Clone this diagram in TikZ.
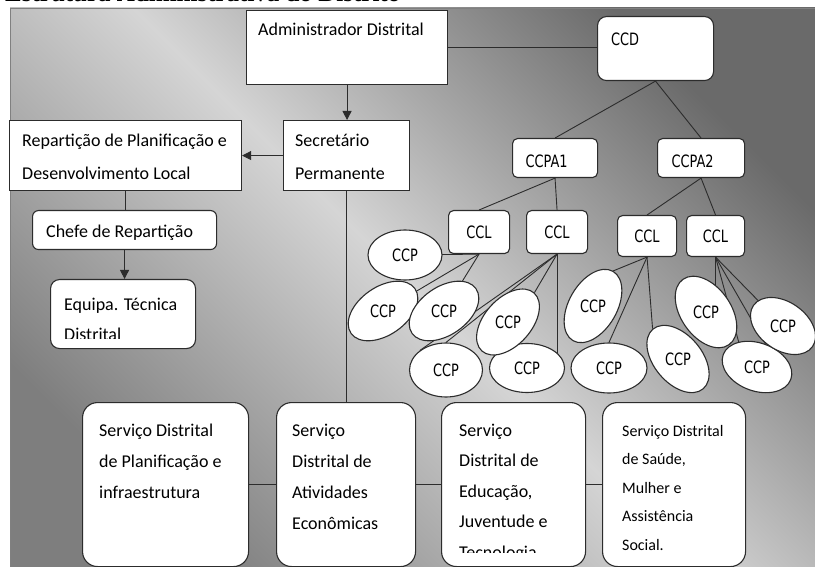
\documentclass[tikz,border=0pt]{standalone}
\usepackage{fontspec}
\usepackage{graphicx}
\setmainfont{Carlito}
\newfontfamily\titlefont{Liberation Serif}
\newfontfamily\dejavu{DejaVu Sans}
\usetikzlibrary{shapes.geometric,arrows.meta,calc}
\pgfdeclarelayer{back}
\pgfdeclarelayer{links}
\pgfsetlayers{back,links,main}
\definecolor{edge}{HTML}{2C2C2C}
\definecolor{gdark}{HTML}{6A6A6A}
\definecolor{glight}{HTML}{D5D5D5}
\definecolor{gbl}{HTML}{7E7E7E}
\newcommand\mlines[3]{\parbox[t]{300pt}{\fontsize{#1}{#2}\selectfont #3}}
\newcommand\nrw[1]{\scalebox{0.76}[1]{\dejavu\fontsize{17}{20}\selectfont #1}}
\begin{document}
\begin{tikzpicture}[x=1pt,y=-1pt,
  box/.style={draw=edge, fill=white, line width=1.1pt, rectangle, anchor=north west, inner sep=0pt},
  rbox/.style={box, rounded corners=6pt},
  bigbox/.style={box, rounded corners=15pt},
  lbl/.style={anchor=base west, inner sep=0pt, font=\fontsize{18}{20}\selectfont},
  cclbox/.style={rbox, rounded corners=5pt},
  ccp/.style={ellipse, draw=edge, fill=white, line width=1.1pt, inner sep=0pt},
  ccptxt/.style={inner sep=0pt},
  link/.style={draw=edge, line width=0.9pt},
  arr/.style={link, -{Triangle[length=9pt,width=9pt]}},
]
\useasboundingbox (0,0) rectangle (815,567);
\begin{pgfonlayer}{back}
  \shade[top color=gdark, bottom color=gbl, middle color=glight, shading angle=-45] (10,8) rectangle (815,567);
  \draw[line width=0.6pt, draw=gray] (10,567) -- (10,8) -- (815,8);
\end{pgfonlayer}

% title (partly cut off at the top, as in the source)
\node[anchor=base west, inner sep=0pt, font=\titlefont\bfseries\fontsize{25}{27}\selectfont] (title) at (5,1.8) {Estrutura Administrativa do Distrito};

% top part
\node[box, minimum width=201, minimum height=74] (adm) at (246,10) {};
\node[lbl] (admT) at ($(adm.north west)+(12,26)$) {Administrador Distrital};

\node[rbox, rounded corners=9pt, minimum width=116, minimum height=64] (ccd) at (597,16) {};
\node[anchor=base west, inner sep=0pt] (ccdT) at ($(ccd.north west)+(14,30)$) {\nrw{CCD}};

\node[box, minimum width=126, minimum height=70] (sec) at (283,120) {};
\node[lbl] (secT) at ($(sec.north west)+(12,27)$) {\mlines{18}{33}{Secretário\\Permanente}};

\node[box, minimum width=232, minimum height=70] (rep) at (9,120) {};
\node[lbl] (repT) at ($(rep.north west)+(13,27)$) {\mlines{18}{33}{Repartição de Planificação e\\Desenvolvimento Local}};

\node[rbox, minimum width=184, minimum height=39] (chefe) at (32,210) {};
\node[lbl] (chefeT) at ($(chefe.north west)+(14,27)$) {Chefe de Repartição};

\node[rbox, rounded corners=9pt, minimum width=145, minimum height=69] (equipa) at (50,279) {};
\begin{scope}
  \clip (50,279) rectangle (195,338);
  \node[lbl] (equipaT) at ($(equipa.north west)+(14,31)$) {\mlines{18}{30}{Equipa. Técnica\\Distrital}};
\end{scope}

% bottom services
\node[bigbox, minimum width=166, minimum height=164] (svA) at (82,402) {};
\node[lbl] (svAT) at ($(svA.north west)+(17,34)$) {\mlines{18}{31}{Serviço Distrital\\de Planificação e\\infraestrutura}};
\node[bigbox, minimum width=139, minimum height=164] (svB) at (276,402) {};
\node[lbl] (svBT) at ($(svB.north west)+(16,34)$) {\mlines{18}{31}{Serviço\\Distrital de\\Atividades\\Econômicas}};
\node[bigbox, minimum width=144, minimum height=164] (svC) at (441,402) {};
\begin{scope}
  \clip (441,402) rectangle (585,552);
  \node[lbl] (svCT) at ($(svC.north west)+(18,34)$) {\mlines{18}{30.5}{Serviço\\Distrital de\\Educação,\\Juventude e\\Tecnologia}};
\end{scope}
\node[bigbox, minimum width=143, minimum height=164] (svD) at (602,402) {};
\node[lbl] (svDT) at ($(svD.north west)+(20,34)$) {\mlines{16}{28.5}{Serviço Distrital\\de Saúde,\\Mulher e\\Assistência\\Social.}};

% CCPA and CCL
\node[rbox, rounded corners=5pt, minimum height=39, text width=59pt, inner xsep=13pt, align=left, text height=19pt, text depth=0pt] (ccpa1) at (512,138) {\nrw{CCPA1}};
\node[rbox, rounded corners=5pt, minimum height=39, text width=59pt, inner xsep=14pt, align=left, text height=19pt, text depth=0pt] (ccpa2) at (657,138) {\nrw{CCPA2}};

\node[cclbox, minimum width=61, minimum height=43] (ccl1) at (448,210) {\nrw{CCL}};
\node[cclbox, minimum width=61, minimum height=43] (ccl2) at (526,210) {\nrw{CCL}};
\node[cclbox, minimum width=59, minimum height=41] (ccl3) at (617,215) {\nrw{CCL}};
\node[cclbox, minimum width=58, minimum height=41] (ccl4) at (686,215) {\nrw{CCL}};

% CCP ellipses
\node[ccp, minimum width=74, minimum height=50] (e1) at (405,255) {};
\node[ccp, rotate=35, minimum width=78, minimum height=48] (e2) at (383,311) {};
\node[ccp, rotate=35, minimum width=78, minimum height=48] (e3) at (444,311) {};
\node[ccp, minimum width=73, minimum height=54] (e5) at (446,370) {};
\node[ccp, minimum width=75, minimum height=49] (e6) at (527,368) {};
\node[ccp, rotate=48, minimum width=78, minimum height=47] (e4) at (508,322) {};
\node[ccp, rotate=60, minimum width=80, minimum height=48] (e7) at (593,306) {};
\node[ccp, minimum width=76, minimum height=50] (e8) at (609,368) {};
\node[ccp, rotate=-50, minimum width=78, minimum height=48] (e9) at (678,359) {};
\node[ccp, rotate=-55, minimum width=80, minimum height=50] (e10) at (706,312) {};
\node[ccp, rotate=-20, minimum width=72, minimum height=48] (e11) at (757,367) {};
\node[ccp, rotate=-35, minimum width=72, minimum height=48] (e12) at (783,326) {};
\foreach \e in {e1,e2,e3,e4,e5,e6,e7,e8,e9,e10,e11,e12}{
  \node[ccptxt] (\e t) at (\e) {\nrw{CCP}};
}

% connectors
\begin{pgfonlayer}{links}
  \draw[link, line width=1.4pt] (adm.east) -- (adm.east -| ccd.west);
  \draw[arr] (adm.south) -- (adm.south |- sec.north);
  \draw[arr] (sec.west) -- (rep.east);
  \draw[link] (rep.south) -- (rep.south |- chefe.north);
  \draw[arr] (chefe.south) -- (chefe.south |- equipa.north);
  \draw[link] (sec.south) -- (sec.south |- svB.north);
  \draw[link] (svA.east) -- (svB.west);
  \draw[link] (svB.east) -- (svC.west);
  \draw[link] (svC.east) -- (svD.west);

  \draw[link] (ccd.south) -- (ccpa1.north);
  \draw[link] (ccd.south) -- (ccpa2.north);
  \draw[link] (ccpa1.south) -- (ccl1.north);
  \draw[link] (ccpa1.south) -- (ccl2.north);
  \draw[link] (ccpa2.south) -- (ccl3.north);
  \draw[link] (ccpa2.south) -- (ccl4.north);

  \draw[link] (ccl1.south) -- (e1.center);
  \draw[link] (ccl1.south) -- (e2.center);
  \draw[link] (ccl1.south) -- (e3.center);
  \draw[link] (ccl2.south) -- (e4.east);
  \draw[link] (ccl2.south) -- (e5.north west);
  \draw[link] (ccl2.south) -- (e5.north);
  \draw[link] (ccl2.south) -- (ccl2.south |- e6.center);
  \draw[link] (ccl3.south) -- (e7.east);
  \draw[link] (ccl3.south) -- (e8.north);
  \draw[link] (ccl3.south) -- (e9.west);
  \draw[link] (ccl4.south) -- (ccl4.south |- e10.center);
  \draw[link] (ccl4.south) -- (e11.north west);
  \draw[link] (ccl4.south) -- (e11.north);
  \draw[link] (ccl4.south) -- (e12.center);
\end{pgfonlayer}
\end{tikzpicture}
\end{document}
